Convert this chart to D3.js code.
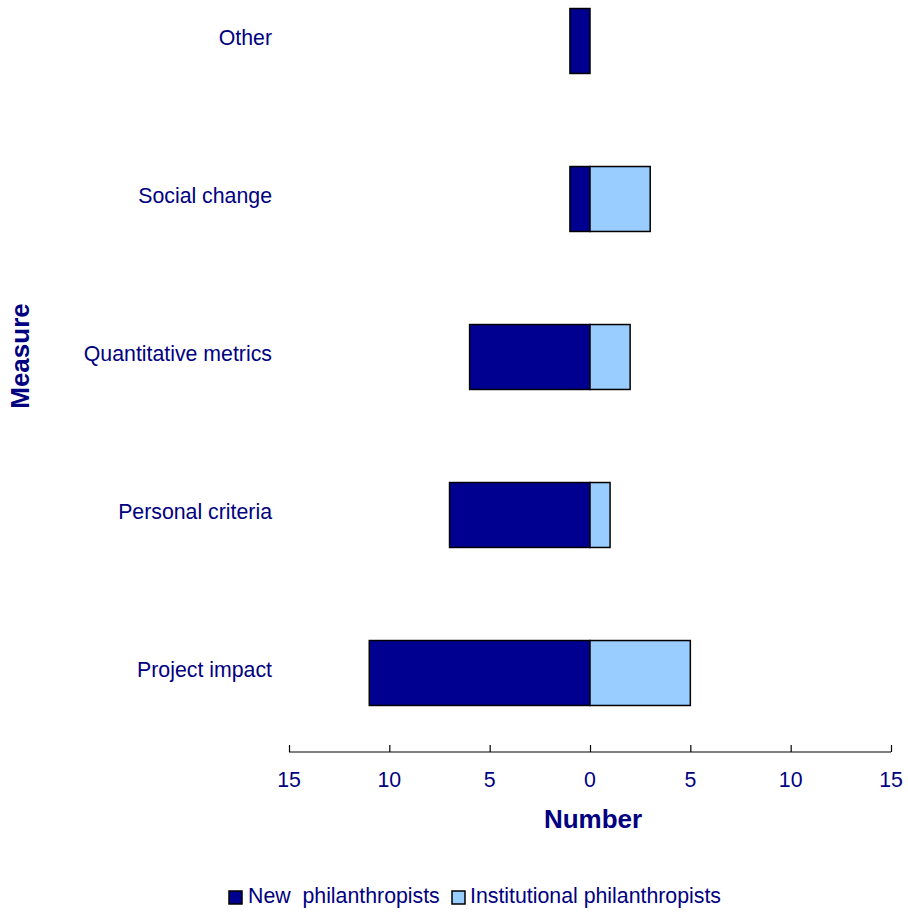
<!DOCTYPE html>
<html><head><meta charset="utf-8">
<script src="https://cdn.jsdelivr.net/npm/d3@7"></script>
<style>body{margin:0;background:#fff;} svg{display:block;font-family:"Liberation Sans",Arial,sans-serif;}</style>
</head><body>
<svg id="c" width="908" height="912"></svg>
<script>
const categories = ["Other","Social change","Quantitative metrics","Personal criteria","Project impact"];
const newPhil = [1,1,6,7,11];
const instPhil = [0,3,2,1,5];
const tickValues = [-15,-10,-5,0,5,10,15];
const seriesNames = ["New  philanthropists","Institutional philanthropists"];
const colors = ["#000090","#99CCFF"];
const navy = "#000080";

const svg = d3.select("#c");
const x = d3.scaleLinear().domain([-15,15]).range([289,891]);
const y = d3.scaleBand().domain(categories).range([-38,752]).paddingInner(0.589).paddingOuter(0.2945);

const g = svg.append("g");
categories.forEach((c,i)=>{
  if (newPhil[i]>0) g.append("rect").attr("x",x(-newPhil[i])).attr("y",y(c)).attr("width",x(0)-x(-newPhil[i])).attr("height",y.bandwidth())
    .attr("fill",colors[0]).attr("stroke","#000").attr("stroke-width",1.5);
  if (instPhil[i]>0) g.append("rect").attr("x",x(0)).attr("y",y(c)).attr("width",x(instPhil[i])-x(0)).attr("height",y.bandwidth())
    .attr("fill",colors[1]).attr("stroke","#000").attr("stroke-width",1.5);
  g.append("text").attr("x",272).attr("y",y(c)+y.bandwidth()/2-3).attr("dy","0.35em").attr("text-anchor","end")
    .attr("font-size",21.3).attr("fill",navy).text(c);
});

const ax = svg.append("g").attr("transform","translate(0,752)")
  .call(d3.axisTop(x).tickValues(tickValues).tickSize(7).tickFormat(()=>""));
ax.select(".domain").attr("stroke","#000").attr("stroke-width",1.2).attr("d","M289,0H891");
ax.selectAll(".tick line").attr("stroke","#000").attr("stroke-width",1.2);
tickValues.forEach(v=>{
  svg.append("text").attr("x",x(v)).attr("y",780).attr("dy","0.35em").attr("text-anchor","middle")
    .attr("font-size",21.3).attr("fill",navy).text(Math.abs(v));
});

svg.append("text").attr("x",593).attr("y",819).attr("dy","0.35em").attr("text-anchor","middle")
  .attr("font-size",26).attr("font-weight","bold").attr("fill",navy).text("Number");
svg.append("text").attr("transform","translate(20,356) rotate(-90)").attr("dy","0.35em").attr("text-anchor","middle")
  .attr("font-size",26).attr("font-weight","bold").attr("fill",navy).text("Measure");

const leg = [{x:229,tx:248},{x:452,tx:470}];
leg.forEach((l,i)=>{
  svg.append("rect").attr("x",l.x).attr("y",891).attr("width",13).attr("height",13).attr("fill",colors[i]).attr("stroke","#000").attr("stroke-width",1.5);
  svg.append("text").attr("x",l.tx).attr("y",896).attr("dy","0.35em").attr("font-size",21.3).attr("fill",navy)
    .style("white-space","pre").attr("xml:space","preserve").text(seriesNames[i]);
});
</script>
</body></html>
